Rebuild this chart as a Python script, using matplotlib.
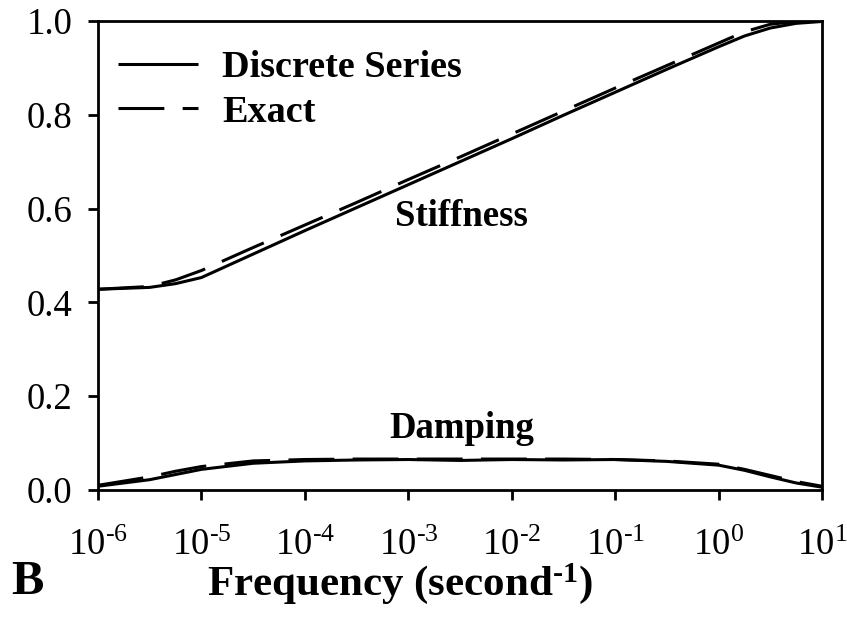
import matplotlib
matplotlib.use("Agg")
import matplotlib.pyplot as plt
from matplotlib.ticker import FixedLocator, NullLocator

plt.rcParams['font.family'] = ['Liberation Serif', 'DejaVu Serif']
plt.rcParams['mathtext.fontset'] = 'custom'
plt.rcParams['mathtext.rm'] = 'Liberation Serif'
plt.rcParams['mathtext.it'] = 'Liberation Serif:italic'
plt.rcParams['mathtext.bf'] = 'Liberation Serif:bold'

# frequency grid (1/s)
freq = [1e-6, 3.16e-6, 5.62e-6, 1e-5, 3.16e-5, 1e-4, 3.16e-4, 1e-3, 3.16e-3,
        1e-2, 3.16e-2, 1e-1, 3.16e-1, 1.0, 1.78, 3.16, 5.62, 10.0]

# normalised stiffness and damping
stiff_discrete = [0.428, 0.432, 0.440, 0.453, 0.503, 0.553, 0.602, 0.651, 0.700,
                  0.749, 0.799, 0.848, 0.897, 0.945, 0.968, 0.985, 0.995, 0.999]
stiff_exact = [0.428, 0.434, 0.448, 0.468, 0.517, 0.565, 0.613, 0.662, 0.710,
               0.759, 0.808, 0.857, 0.905, 0.953, 0.977, 0.993, 0.999, 1.000]
damp_discrete = [0.008, 0.022, 0.033, 0.044, 0.057, 0.062, 0.064, 0.065, 0.063,
                 0.065, 0.064, 0.065, 0.061, 0.053, 0.042, 0.028, 0.015, 0.006]
damp_exact = [0.010, 0.028, 0.040, 0.050, 0.062, 0.065, 0.066, 0.066, 0.066,
              0.066, 0.066, 0.065, 0.062, 0.055, 0.044, 0.031, 0.018, 0.008]

xticks = [1e-6, 1e-5, 1e-4, 1e-3, 1e-2, 1e-1, 1e0, 1e1]
xtick_labels = [r'$\mathregular{10^{‐6}}$', r'$\mathregular{10^{‐5}}$',
                r'$\mathregular{10^{‐4}}$', r'$\mathregular{10^{‐3}}$',
                r'$\mathregular{10^{‐2}}$', r'$\mathregular{10^{‐1}}$',
                r'$\mathregular{10^{0}}$', r'$\mathregular{10^{1}}$']
yticks = [0.0, 0.2, 0.4, 0.6, 0.8, 1.0]
ytick_labels = ['0.0', '0.2', '0.4', '0.6', '0.8', '1.0']

W, H = 847, 620
fig = plt.figure(figsize=(W / 100, H / 100), dpi=100)
ax = fig.add_axes([98 / W, 130 / H, 724 / W, 469 / H])

lw = 2.2
dash = (0, (15, 6))
ax.plot(freq, stiff_discrete, color='black', lw=lw, solid_capstyle='butt',
        label='Discrete Series')
ax.plot(freq, stiff_exact, color='black', lw=lw, linestyle=dash, label='Exact')
ax.plot(freq, damp_discrete, color='black', lw=lw)
ax.plot(freq, damp_exact, color='black', lw=lw, linestyle=dash)

ax.set_xscale('log')
ax.set_xlim(1e-6, 1e1)
ax.set_ylim(0, 1)
ax.xaxis.set_major_locator(FixedLocator(xticks))
ax.xaxis.set_minor_locator(NullLocator())
ax.set_xticklabels(xtick_labels)
ax.set_yticks(yticks)
ax.set_yticklabels(ytick_labels)

for s in ax.spines.values():
    s.set_linewidth(2.0)
ax.tick_params(axis='both', direction='out', length=7.5, width=2.0,
               labelsize=26.5)
ax.tick_params(axis='x', pad=20)
ax.tick_params(axis='y', pad=11)

ax.text(3.3e-3, 0.562, 'Stiffness', fontsize=26.5, fontweight='bold',
        ha='center', va='baseline')
ax.text(3.3e-3, 0.111, 'Damping', fontsize=26.5, fontweight='bold',
        ha='center', va='baseline')

leg = ax.legend(loc='upper left', bbox_to_anchor=(0.0276, 0.938),
                frameon=False, borderpad=0, borderaxespad=0,
                handlelength=2.1, handletextpad=0.62, labelspacing=0.25,
                prop={'size': 27.5, 'weight': 'bold'})

fig.text(400 / W, 1 - 584 / H, r'Frequency (second$^{\mathbf{‐1}}$)',
         fontsize=31, fontweight='bold', ha='center', va='center')
fig.text(11 / W, 1 - 594 / H, 'B', fontsize=35, fontweight='bold',
         ha='left', va='baseline')

fig.savefig('out.png', dpi=100)
